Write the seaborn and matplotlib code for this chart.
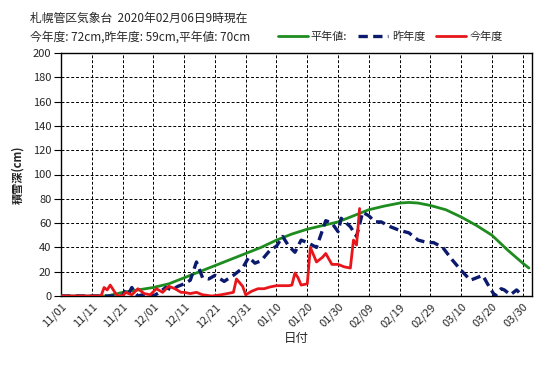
import matplotlib
matplotlib.use("Agg")
import matplotlib.pyplot as plt
import seaborn as sns
import pandas as pd
import numpy as np

# ---- data (day index from 11/01) ----
normal_day = [0, 15, 20, 25, 30, 35, 40, 45, 50, 55, 60, 65, 70, 75, 80, 85, 90, 95,
              100, 105, 110, 113, 116, 120, 125, 130, 135, 140, 145, 150, 152]
normal_val = [0, 0, 3, 5, 7, 10, 15, 20, 25, 30, 35, 40, 46, 51, 55, 58, 61, 66,
              71, 74, 76.5, 77, 76.5, 74.5, 71, 65, 58, 50, 38, 27, 23]

last_day = [0, 20, 21, 22, 23, 24, 25, 28, 30, 32, 34, 36, 38, 40, 42, 44, 46, 48, 50,
            53, 56, 59, 61, 63, 65, 68, 70, 72, 74, 76, 78, 80, 83, 86, 88, 90, 91, 94,
            96, 98, 100, 102, 104, 107, 110, 113, 116, 119, 121, 124, 127, 130, 133,
            136, 137, 139, 141, 143, 144, 146, 148, 150]
last_val = [0, 0, 5, 2, 7, 3, 0, 2, 0, 3, 7, 5, 8, 10, 13, 28, 15, 14, 17,
            12, 17, 23, 32, 27, 29, 38, 41, 49, 41, 36, 46, 44, 40, 62, 60, 53, 64, 57,
            49, 69, 66, 61, 61, 57, 54, 52, 46, 44, 44, 40, 30, 21, 13,
            16, 17, 8, 0, 6, 5, 1, 5, 0]

this_day = [0, 13, 14, 15, 16, 17, 18, 19, 20, 21, 23, 25, 27, 29, 31, 33, 35, 37, 39,
            40, 42, 44, 46, 49, 52, 56, 57, 59, 60, 62, 64, 66, 68, 70, 74, 75, 76, 77,
            78, 80, 81, 83, 85, 86, 88, 90, 92, 94, 95, 96, 97]
this_val = [0, 0, 7, 5, 9, 5, 1, 0, 0, 3, 1, 6, 2, 1, 6, 3, 8, 6, 3,
            3, 2, 3, 1, 0, 1, 3, 14, 8, 1, 4, 6, 6, 7.5, 8.5, 8.5, 9, 19, 15,
            9, 10, 40, 28, 32, 35, 26, 26, 24, 23, 46, 42, 72]

tick_days = list(range(0, 151, 10))
tick_labels = ["11/01", "11/11", "11/21", "12/01", "12/11", "12/21", "12/31", "01/10",
               "01/20", "01/30", "02/09", "02/19", "02/29", "03/10", "03/20", "03/30"]
y_ticks = list(range(0, 201, 20))

sns.set_style("white")
plt.rcParams['font.family'] = ['Noto Sans CJK JP', 'DejaVu Sans']

fig = plt.figure(figsize=(5.47, 3.67), dpi=100)
ax = fig.add_axes([61 / 547, 1 - 296 / 367, (532 - 61) / 547, (296 - 53) / 367])

df_n = pd.DataFrame({"day": normal_day, "val": normal_val})
df_l = pd.DataFrame({"day": last_day, "val": last_val})
df_t = pd.DataFrame({"day": this_day, "val": this_val})

c_green = "#1e8c1e"
c_navy = "#0c1a6e"
c_red = "#e8161b"

sns.lineplot(data=df_n, x="day", y="val", ax=ax, color=c_green, linewidth=2.0,
             label="平年値:", zorder=3)
sns.lineplot(data=df_l, x="day", y="val", ax=ax, color=c_navy, linewidth=2.4,
             label="昨年度", zorder=4)
ax.lines[-1].set_dashes((2.8, 1.6))
sns.lineplot(data=df_t, x="day", y="val", ax=ax, color=c_red, linewidth=2.0,
             label="今年度", zorder=5)

ax.set_xlim(0, 153)
ax.set_ylim(0, 200)
ax.set_xticks(tick_days)
ax.set_xticklabels(tick_labels, rotation=45, ha='right', rotation_mode='anchor',
                   fontsize=8)
ax.set_yticks(y_ticks)
ax.set_yticklabels([str(v) for v in y_ticks], fontsize=8)
ax.tick_params(axis='y', length=5, width=0.8, color='black', pad=2, direction='out', left=True)
ax.tick_params(axis='x', length=0, pad=4)
ax.grid(True, color='black', linestyle=(0, (3, 2)), linewidth=0.7)
for s in ax.spines.values():
    s.set_color('black')
    s.set_linewidth(1.0)

ax.set_xlabel("日付", fontsize=9, labelpad=2)
ax.set_ylabel("積雪深(cm)", fontsize=8, fontweight='bold', labelpad=6)

ax.get_legend().remove()
h, l = ax.get_legend_handles_labels()
fig.legend(h, l, loc='center right', bbox_to_anchor=(503 / 547, 1 - 37 / 367),
           ncol=3, frameon=False, fontsize=8, handlelength=2.7, handletextpad=0.3,
           columnspacing=1.0, borderaxespad=0, borderpad=0)

fig.text(30 / 547, 1 - 18 / 367, "札幌管区気象台  2020年02月06日9時現在", fontsize=8.5,
         va='center', ha='left')
fig.text(30 / 547, 1 - 37 / 367, "今年度: 72cm,昨年度: 59cm,平年値: 70cm", fontsize=8.5,
         va='center', ha='left')

fig.savefig("out.png", dpi=100)
